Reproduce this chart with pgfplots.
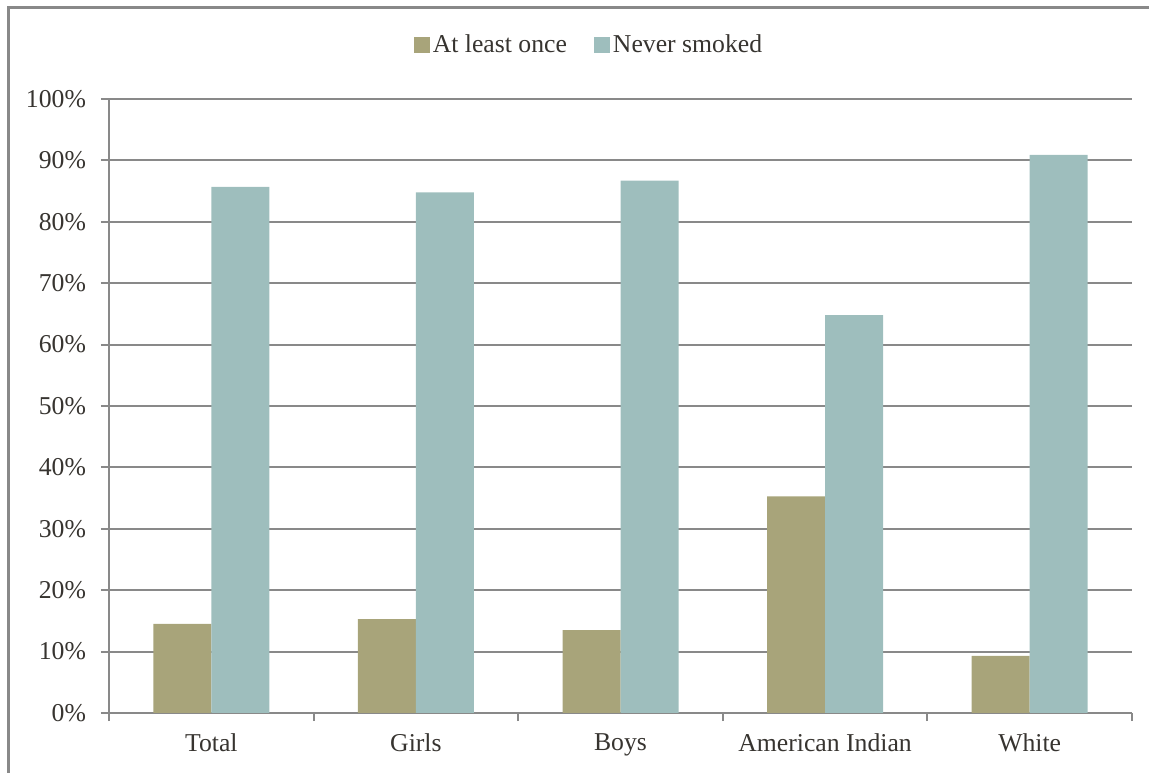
\documentclass[border=0pt]{standalone}
\usepackage{fontspec}
\setmainfont{Liberation Serif}
\usepackage{pgfplots}
\pgfplotsset{compat=1.18}
\definecolor{olivebar}{RGB}{168,164,122}
\definecolor{tealbar}{RGB}{158,190,189}
\definecolor{axgray}{RGB}{137,137,137}
\definecolor{txt}{RGB}{55,52,48}
\begin{document}
\begin{tikzpicture}
\useasboundingbox (0,0) rectangle (574.5bp,386.5bp);
\draw[axgray, line width=1.3bp] (4.25bp,0) -- (4.25bp,382.75bp) -- (574.5bp,382.75bp);
\begin{axis}[
  at={(54.5bp,30bp)}, anchor=south west,
  scale only axis, width=511.5bp, height=307bp,
  ybar=0pt, bar width=29bp,
  xmin=-0.5, xmax=4.5, ymin=0, ymax=100,
  xtick={-0.5,0.5,1.5,2.5,3.5,4.5},
  xticklabels={},
  extra x ticks={0,1,2,3,4},
  extra x tick labels={Total,Girls,Boys,American Indian,White},
  extra x tick style={grid=none, tick style={draw=none}},
  ytick={0,10,...,100},
  yticklabel={\pgfmathparse{int(\tick)}\pgfmathresult\%},
  axis x line*=bottom, axis y line*=left,
  axis line style={axgray, line width=1.1bp, -},
  ymajorgrids, grid style={axgray, line width=1bp},
  tick align=outside,
  x tick style={axgray, line width=1bp},
  y tick style={axgray, line width=1bp},
  major tick length=4bp,
  tick label style={font=\fontsize{12.9}{15}\selectfont, text=txt},
  xticklabel style={yshift=-3bp},
  yticklabel style={xshift=-4bp},
  legend style={at={(0.4697,1.088)}, anchor=center, draw=none, fill=none,
    legend columns=2, font=\fontsize{12.9}{15}\selectfont, text=txt,
    /tikz/every even column/.append style={column sep=12bp},
    nodes={inner sep=1.5bp}},
  legend image code/.code={\fill[#1] (0bp,-4bp) rectangle (8bp,4bp);},
]
\addplot[fill=olivebar, draw=none] coordinates {(0,14.5) (1,15.3) (2,13.5) (3,35.3) (4,9.3)};
\addplot[fill=tealbar, draw=none] coordinates {(0,85.7) (1,84.8) (2,86.7) (3,64.8) (4,90.9)};
\legend{At least once, Never smoked}
\end{axis}
\end{tikzpicture}
\end{document}
